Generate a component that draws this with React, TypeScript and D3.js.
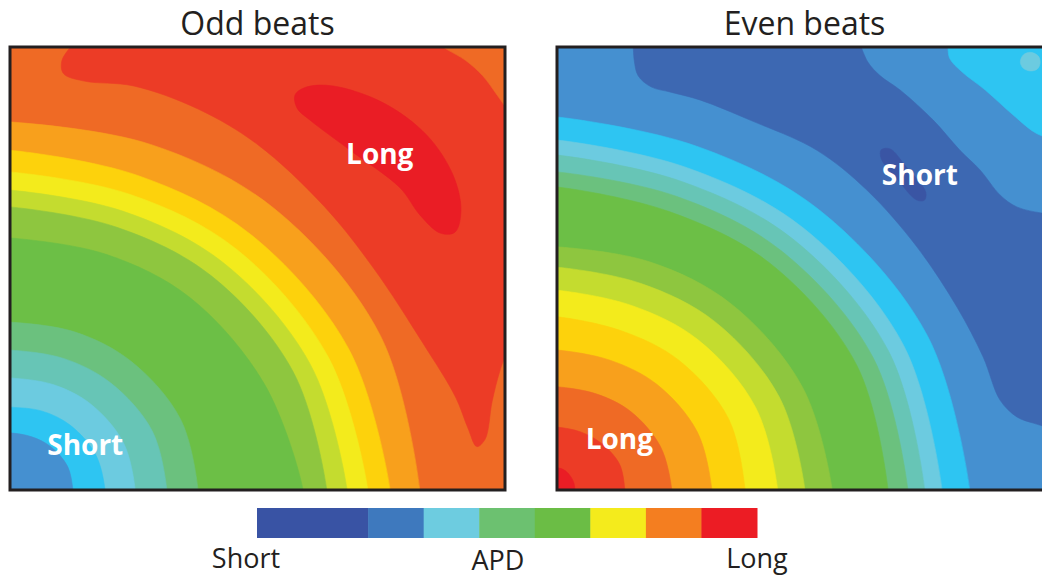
import React from "react";
import * as d3 from "d3";

type Pt = [number, number];
type Shape = { level: number; curve: Pt[]; via?: Pt[]; back?: Pt[]; closed?: boolean; ring?: boolean };

// APD level palette (0 = shortest ... 15 = longest)
const apdColors = [
  "#3a55a4", "#3d68b2", "#4590d0", "#2ec5f2", "#6ccbe0", "#67c5b6", "#6bc17e", "#6cbf46",
  "#8ec63f", "#c4dc2f", "#f3eb1c", "#fdd20c", "#f8a01c", "#ef6a25", "#ec3c26", "#ea1d25",
];

const panelTitles = ["Odd beats", "Even beats"];

// ---------- Odd beats: iso-APD boundaries (panel units 0..100, origin bottom-left) ----------
const oddBackgroundLevel = 13;
const oddRings: { level: number; pts: Pt[] }[] = [
  { level: 12, pts: [[0, 83.1], [28.4, 78], [53.3, 63.6], [74.8, 34.9], [82.8, 0]] },
  { level: 11, pts: [[0, 76.7], [25.8, 71], [48.5, 57.8], [68.4, 31.9], [76.8, 0]] },
  { level: 10, pts: [[0, 71.8], [24.3, 66.7], [45.7, 54.4], [64.3, 30], [72.3, 0]] },
  { level: 9, pts: [[0, 67.7], [22.9, 62.9], [43.1, 51.3], [60.7, 28.3], [68.1, 0]] },
  { level: 8, pts: [[0, 63.9], [21.6, 59.3], [40.6, 48.4], [57.2, 26.7], [64, 0]] },
  { level: 7, pts: [[0, 56.9], [19.4, 53.2], [36.4, 43.4], [51.4, 23.9], [59.2, 0]] },
  { level: 6, pts: [[0, 37.9], [13, 35.7], [24.4, 29.1], [34.4, 16.1], [38, 0]] },
  { level: 5, pts: [[0, 31.6], [10.8, 29.7], [20.3, 24.2], [28.7, 13.4], [31.7, 0]] },
  { level: 4, pts: [[0, 25.3], [8.7, 23.8], [16.3, 19.4], [22.9, 10.7], [25.3, 0]] },
  { level: 3, pts: [[0, 18.7], [6.5, 17.8], [12.2, 14.6], [17.3, 8.0], [19.2, 0]] },
  { level: 2, pts: [[0, 12.9], [4.4, 12.0], [8.2, 9.8], [11.6, 5.4], [12.7, 0]] },
];
const oddLongBand: Pt[] = [
  [13, 101], [10.5, 97], [10.8, 94], [15, 92.3], [25, 91.2], [38, 86], [50, 78], [63.5, 64],
  [73.5, 50], [83.5, 33], [90, 21], [92.5, 14], [94.3, 9.8], [96, 11.5], [97.4, 20], [99, 27], [101, 33],
];
const oddCornerTopRight: Pt[] = [[86, 101], [88.5, 99.3], [92, 97], [95.5, 93.5], [98.5, 89], [101, 85]];
const oddLongestBlob: Pt[] = [
  [57.6, 89.2], [60, 91], [65.3, 91.2], [75.4, 87.4], [84.2, 80.1], [89.5, 71.1], [91.1, 63.2],
  [89.9, 58.2], [86.9, 58], [82.8, 62.1], [78.8, 68.2], [68.7, 76.7], [60.6, 83.5], [58, 86.2],
];

// ---------- Even beats ----------
const evenBackgroundLevel = 2;
const evenRings: { level: number; pts: Pt[] }[] = [
  { level: 3, pts: [[0, 84.2], [28.2, 77.6], [53, 63.2], [74.8, 34.9], [83.4, 0]] },
  { level: 4, pts: [[0, 79], [26.4, 72.7], [49.7, 59.2], [70, 32.7], [77.8, 0]] },
  { level: 5, pts: [[0, 75.6], [25.3, 69.6], [47.6, 56.7], [67, 31.3], [74.3, 0]] },
  { level: 6, pts: [[0, 71.8], [24.1, 66.3], [45.3, 54], [63.9, 29.8], [70.9, 0]] },
  { level: 7, pts: [[0, 68.4], [22.8, 62.8], [43, 51.2], [60.5, 28.3], [66.9, 0]] },
  { level: 8, pts: [[0, 54.9], [18.7, 51.5], [35.2, 42], [49.6, 23.2], [55.6, 0]] },
  { level: 9, pts: [[0, 50.3], [17, 46.6], [31.9, 38], [44.9, 21], [50.1, 0]] },
  { level: 10, pts: [[0, 45.1], [15.2, 41.6], [28.5, 33.9], [40.1, 18.7], [44.6, 0]] },
  { level: 11, pts: [[0, 39.1], [13.1, 35.9], [24.6, 29.3], [34.6, 16.2], [38, 0]] },
  { level: 12, pts: [[0, 31.6], [10.7, 29.3], [20.1, 23.9], [28.3, 13.2], [31.3, 0]] },
  { level: 13, pts: [[0, 23.3], [7.9, 21.7], [14.9, 17.7], [20.9, 9.8], [23.2, 0]] },
  { level: 14, pts: [[0, 14.2], [4.8, 13.1], [8.9, 10.6], [12.6, 5.9], [13.7, 0]] },
  { level: 15, pts: [[0, 5], [1.3, 4.6], [2.6, 3.3], [3.4, 1.6], [3.6, 0]] },
];
const evenShortBandLower: Pt[] = [
  [15.4, 100.8], [15.6, 97], [16.4, 93.5], [19, 91], [23, 89.8], [29, 88], [39, 83.5], [52.5, 76.7],
  [62.6, 67.7], [72.7, 54.9], [80.8, 41.3], [86.1, 30], [89.5, 20.3], [92.9, 16.5], [96.2, 15.1],
  [100, 14], [103, 13.8],
];
const evenShortBandUpper: Pt[] = [
  [103, 62.3], [100, 62.3], [98, 62.5], [92.9, 63.9], [89.5, 66.6], [85.5, 72.2], [81.4, 76.7],
  [76, 83.5], [69.3, 90.3], [65.3, 93.5], [62.8, 96.6], [61.2, 100.8],
];
const evenCyanCorner: Pt[] = [[79, 100.8], [79.3, 97.5], [81.8, 94.4], [86.5, 90.3], [92.1, 84.7], [97, 80.4], [101, 79]];
const evenCyanSpot: Pt[] = [[93.6, 96.6], [94.2, 98.2], [95.6, 98.8], [97.2, 98], [97.6, 96.4], [97, 95], [95.6, 94.6], [94.2, 95.2]];
const evenShortestSpot: Pt[] = [[65.5, 76.8], [67.3, 77], [70.5, 73], [74.5, 67.2], [74.2, 65.4], [72.6, 65.5], [69, 69.8], [65.5, 74.8]];

// ---------- Legend ----------
const legendColors = ["#3953a4", "#3e79be", "#6dcce0", "#6cc170", "#6bbd45", "#f4eb1c", "#f47e20", "#ec1c24"];
const legendWeights = [2, 1, 1, 1, 1, 1, 1, 1];
const legendLabels = ["Short", "APD", "Long"];

const oddShapes: Shape[] = [
  { level: 14, curve: oddLongBand, via: [[102, 102]] },
  { level: 13, curve: oddCornerTopRight, via: [[101.5, 101.5]] },
  { level: 15, curve: oddLongestBlob, closed: true },
  ...oddRings.map((r) => ({ level: r.level, curve: r.pts, ring: true })),
];
const evenShapes: Shape[] = [
  { level: 1, curve: evenShortBandLower, via: [[104, 13.8], [104, 62.3]], back: evenShortBandUpper },
  { level: 3, curve: evenCyanCorner, via: [[102, 102]] },
  { level: 4, curve: evenCyanSpot, closed: true },
  { level: 0, curve: evenShortestSpot, closed: true },
  ...evenRings.map((r) => ({ level: r.level, curve: r.pts, ring: true })),
];

const PANEL_W = 495;
const PANEL_TOP = 47;
const PANEL_BOTTOM = 490;
const FONT = "'Open Sans', 'DejaVu Sans', sans-serif";

function Panel(props: {
  id: string;
  left: number;
  title: string;
  bg: number;
  shapes: Shape[];
  labels: { text: string; x: number; y: number }[];
}) {
  const { id, left, title, bg, shapes, labels } = props;
  const x = d3.scaleLinear().domain([0, 100]).range([left, left + PANEL_W]);
  const y = d3.scaleLinear().domain([0, 100]).range([PANEL_BOTTOM, PANEL_TOP]);
  const open = d3
    .line<Pt>()
    .x((d) => x(d[0]))
    .y((d) => y(d[1]))
    .curve(d3.curveCatmullRom.alpha(0.5));
  const closed = d3
    .line<Pt>()
    .x((d) => x(d[0]))
    .y((d) => y(d[1]))
    .curve(d3.curveCatmullRomClosed.alpha(0.5));

  const pathOf = (s: Shape): string => {
    if (s.closed) return closed(s.curve) || "";
    let pts = s.curve;
    let via = s.via || [];
    if (s.ring) {
      const first = pts[0];
      const last = pts[pts.length - 1];
      pts = [[-3, first[1]], ...pts, [last[0], -3]];
      via = [[-3, -3]];
    }
    let p = open(pts) || "";
    via.forEach((v) => (p += `L${x(v[0])},${y(v[1])}`));
    if (s.back) p += (open(s.back) || "").replace(/^M/, "L");
    return p + "Z";
  };

  return (
    <g>
      <defs>
        <clipPath id={id}>
          <rect x={x(0)} y={y(100)} width={x(100) - x(0)} height={y(0) - y(100)} />
        </clipPath>
      </defs>
      <g clipPath={`url(#${id})`}>
        <rect x={x(0)} y={y(100)} width={x(100) - x(0)} height={y(0) - y(100)} fill={apdColors[bg]} />
        {shapes.map((s, i) => (
          <path key={i} d={pathOf(s)} fill={apdColors[s.level]} stroke={apdColors[s.level]} strokeWidth={0.6} />
        ))}
        {labels.map((l, i) => (
          <text
            key={i}
            x={x(l.x)}
            y={y(l.y)}
            textAnchor="middle"
            fill="#ffffff"
            fontFamily={FONT}
            fontWeight={700}
            fontSize={28}
          >
            {l.text}
          </text>
        ))}
      </g>
      <rect
        x={x(0)}
        y={y(100)}
        width={x(100) - x(0)}
        height={y(0) - y(100)}
        fill="none"
        stroke="#231f20"
        strokeWidth={3}
      />
      <text x={(x(0) + x(100)) / 2} y={35} textAnchor="middle" fontFamily={FONT} fontSize={32} fill="#231f20">
        {title}
      </text>
    </g>
  );
}

function Legend() {
  const total = d3.sum(legendWeights);
  const lx = d3.scaleLinear().domain([0, total]).range([257, 757]);
  const starts = d3.cumsum([0, ...legendWeights.slice(0, -1)]);
  return (
    <g>
      {legendColors.map((c, i) => (
        <rect
          key={i}
          x={lx(starts[i])}
          y={508}
          width={lx(starts[i] + legendWeights[i]) - lx(starts[i]) + 0.5}
          height={30}
          fill={c}
        />
      ))}
      <text x={246} y={568} textAnchor="middle" fontFamily={FONT} fontSize={27} fill="#231f20">
        {legendLabels[0]}
      </text>
      <text x={498} y={570} textAnchor="middle" fontFamily={FONT} fontSize={27} fill="#231f20">
        {legendLabels[1]}
      </text>
      <text x={757} y={568} textAnchor="middle" fontFamily={FONT} fontSize={27} fill="#231f20">
        {legendLabels[2]}
      </text>
    </g>
  );
}

export default function App() {
  return (
    <svg
      width={1042}
      height={577}
      viewBox="0 0 1042 577"
      style={{ position: "absolute", left: 0, top: 0, background: "#ffffff" }}
    >
      <rect x={0} y={0} width={1042} height={577} fill="#ffffff" />
      <Panel
        id="clip-odd"
        left={10}
        title={panelTitles[0]}
        bg={oddBackgroundLevel}
        shapes={oddShapes}
        labels={[
          { text: "Long", x: 74.7, y: 73.5 },
          { text: "Short", x: 15.2, y: 7.9 },
        ]}
      />
      <Panel
        id="clip-even"
        left={557}
        title={panelTitles[1]}
        bg={evenBackgroundLevel}
        shapes={evenShapes}
        labels={[
          { text: "Short", x: 73.3, y: 68.8 },
          { text: "Long", x: 12.6, y: 9.2 },
        ]}
      />
      <Legend />
    </svg>
  );
}
